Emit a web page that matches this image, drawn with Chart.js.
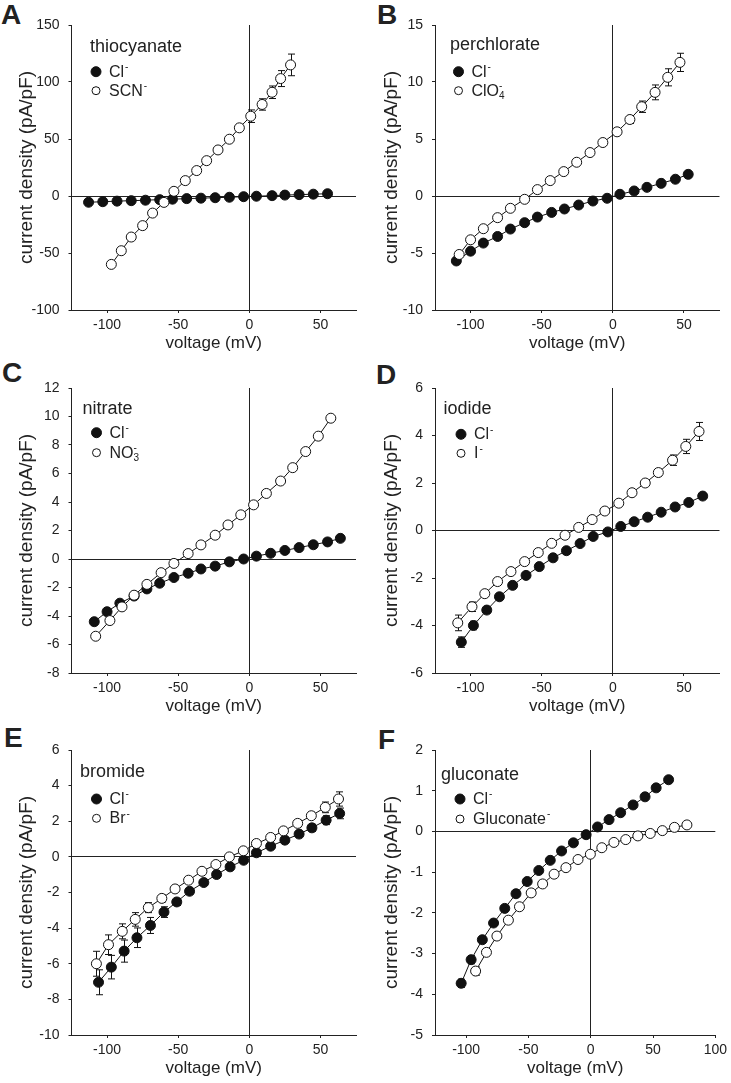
<!DOCTYPE html>
<html>
<head>
<meta charset="utf-8">
<script src="https://cdn.jsdelivr.net/npm/chart.js@4.4.1/dist/chart.umd.min.js"></script>
<style>
  body { margin: 0; background: #fff; width: 731px; height: 1083px; position: relative; overflow: hidden; }
  canvas { position: absolute; }
  .tag { position: absolute; font: bold 28px/28px 'Liberation Sans', Arial, sans-serif; color: #222; }
</style>
</head>
<body>
<div class="tag" style="left:1px;top:1px">A</div>
<div class="tag" style="left:377px;top:1px">B</div>
<div class="tag" style="left:2px;top:359px">C</div>
<div class="tag" style="left:376px;top:361px">D</div>
<div class="tag" style="left:4px;top:724px">E</div>
<div class="tag" style="left:378px;top:726px">F</div>

<canvas id="chartA" width="365" height="355" style="left:0;top:0"></canvas>
<canvas id="chartB" width="366" height="355" style="left:365px;top:0"></canvas>
<canvas id="chartC" width="365" height="355" style="left:0;top:363px"></canvas>
<canvas id="chartD" width="366" height="355" style="left:365px;top:363px"></canvas>
<canvas id="chartE" width="365" height="355" style="left:0;top:725px"></canvas>
<canvas id="chartF" width="366" height="355" style="left:365px;top:725px"></canvas>

<script>
const FONT = "'Liberation Sans', Arial, sans-serif";
const INK = '#222';

// tick labels
const xTicks = [-100, -50, 0, 50];
const xTicksF = [-100, -50, 0, 50, 100];
const yTicksA = [-100, -50, 0, 50, 100, 150];
const yTicksB = [-10, -5, 0, 5, 10, 15];
const yTicksC = [-8, -6, -4, -2, 0, 2, 4, 6, 8, 10, 12];
const yTicksD = [-6, -4, -2, 0, 2, 4, 6];
const yTicksE = [-10, -8, -6, -4, -2, 0, 2, 4, 6];
const yTicksF = [-5, -4, -3, -2, -1, 0, 1, 2];

// A: thiocyanate
const vA_cl = [-113, -103, -93, -83, -73, -63, -54, -44, -34, -24, -14, -4, 5, 16, 25, 35, 45, 55];
const iA_cl = [-5.5, -5.0, -4.5, -4.1, -3.7, -3.2, -2.8, -2.3, -1.9, -1.5, -1.1, -0.6, -0.2, 0.3, 0.8, 1.2, 1.6, 2.0];
const eA_cl = [0.5, 0.5, 0.5, 0.5, 0.5, 0.5, 0.5, 0.5, 0.5, 0.5, 0.5, 0.5, 0.5, 0.5, 0.5, 0.5, 0.5, 0.5];
const vA_scn = [-97, -90, -83, -75, -68, -60, -53, -45, -37, -30, -22, -14, -7, 1, 9, 16, 22, 29];
const iA_scn = [-60, -48, -36, -26, -15, -5.6, 4.1, 13.5, 22.3, 31, 40.4, 49.8, 59.8, 70, 80.3, 91, 103, 115];
const eA_scn = [1, 1, 1, 1, 1, 1, 1, 1.5, 1.5, 1.5, 2, 2, 3, 5.5, 5, 5.5, 7, 9.5];

// B: perchlorate
const vB_cl = [-110, -100, -91, -81, -72, -62, -53, -43, -34, -24, -14, -4, 5, 15, 24, 34, 44, 53];
const iB_cl = [-5.7, -4.84, -4.13, -3.55, -2.9, -2.34, -1.85, -1.44, -1.14, -0.79, -0.44, -0.2, 0.15, 0.44, 0.76, 1.11, 1.47, 1.9];
const eB_cl = [0.25, 0.2, 0.15, 0.15, 0.1, 0.1, 0.1, 0.1, 0.1, 0.1, 0.1, 0.1, 0.1, 0.1, 0.1, 0.1, 0.15, 0.15];
const vB_clo4 = [-108, -100, -91, -81, -72, -62, -53, -44, -34.5, -25.4, -16, -7, 3, 12, 20.3, 29.7, 38.6, 47.2];
const iB_clo4 = [-5.13, -3.84, -2.87, -1.9, -1.08, -0.29, 0.56, 1.35, 2.14, 2.96, 3.81, 4.69, 5.63, 6.71, 7.83, 9.09, 10.41, 11.72];
const eB_clo4 = [0.2, 0.2, 0.15, 0.15, 0.1, 0.1, 0.1, 0.1, 0.1, 0.1, 0.15, 0.2, 0.25, 0.35, 0.5, 0.65, 0.75, 0.8];

// C: nitrate
const vC_cl = [-109, -100, -91, -81, -72, -63, -53, -43, -34, -24, -14, -4, 5, 15, 25, 35, 45, 55, 64];
const iC_cl = [-4.4, -3.7, -3.1, -2.6, -2.1, -1.7, -1.3, -1.0, -0.7, -0.5, -0.2, 0, 0.2, 0.4, 0.6, 0.8, 1.0, 1.2, 1.45];
const vC_no3 = [-108, -98, -89.5, -81, -72, -62, -53, -43, -34, -24, -15, -6, 3, 12, 22, 30.5, 39.6, 48.5, 57.3];
const iC_no3 = [-5.42, -4.32, -3.36, -2.54, -1.78, -0.96, -0.31, 0.38, 0.99, 1.67, 2.39, 3.1, 3.8, 4.6, 5.47, 6.41, 7.54, 8.62, 9.88];

// D: iodide
const vD_cl = [-106.5, -98, -88.6, -79.7, -70.4, -61, -51.7, -42, -32.6, -23, -13.8, -3.5, 5.6, 15, 24.5, 34, 43.8, 53.4, 63.2];
const iD_cl = [-4.7, -4.0, -3.35, -2.79, -2.31, -1.89, -1.52, -1.15, -0.85, -0.55, -0.25, -0.06, 0.17, 0.37, 0.56, 0.77, 0.99, 1.18, 1.45];
const eD_cl = [0.22, 0.18, 0.12, 0.1, 0.08, 0.08, 0.06, 0.06, 0.05, 0.05, 0.05, 0.05, 0.05, 0.05, 0.05, 0.06, 0.06, 0.08, 0.1];
const vD_i = [-109, -99, -90, -81, -71.6, -62, -52.4, -43, -33.6, -24, -14.5, -5.6, 4.2, 13.5, 22.8, 32, 42, 51.3, 60.6];
const iD_i = [-3.89, -3.21, -2.66, -2.15, -1.73, -1.31, -0.93, -0.54, -0.2, 0.13, 0.46, 0.82, 1.15, 1.59, 2.0, 2.44, 2.96, 3.54, 4.17];
const eD_i = [0.33, 0.2, 0.12, 0.1, 0.08, 0.08, 0.06, 0.06, 0.05, 0.05, 0.05, 0.05, 0.06, 0.08, 0.1, 0.15, 0.22, 0.3, 0.38];

// E: bromide
const vE_cl = [-106, -97, -88, -79, -69.5, -60, -51, -42, -32, -23, -13.5, -4, 5, 15, 25, 35, 44, 54, 63.5];
const iE_cl = [-7.04, -6.19, -5.29, -4.54, -3.85, -3.1, -2.53, -1.93, -1.44, -0.99, -0.56, -0.19, 0.23, 0.6, 0.94, 1.28, 1.63, 2.06, 2.44];
const eE_cl = [0.7, 0.66, 0.62, 0.55, 0.45, 0.3, 0.2, 0.15, 0.15, 0.1, 0.1, 0.1, 0.1, 0.1, 0.15, 0.15, 0.2, 0.25, 0.3];
const vE_br = [-107.5, -99, -89.3, -80.2, -71, -61.5, -52.2, -42.7, -33.3, -23.5, -14, -4.2, 5, 15, 24, 34, 43.6, 53.4, 62.7];
const iE_br = [-6.0, -4.93, -4.18, -3.51, -2.85, -2.33, -1.8, -1.31, -0.81, -0.43, 0, 0.34, 0.75, 1.09, 1.46, 1.88, 2.31, 2.78, 3.25];
const eE_br = [0.7, 0.55, 0.42, 0.38, 0.28, 0.2, 0.15, 0.12, 0.1, 0.1, 0.1, 0.1, 0.1, 0.12, 0.15, 0.18, 0.2, 0.3, 0.4];

// F: gluconate
const vF_cl = [-104, -96, -87, -78, -69, -60, -51, -41.7, -32.5, -23.4, -13.9, -3.7, 5.5, 14.7, 24, 34, 43.6, 52.5, 62.5];
const iF_cl = [-3.73, -3.15, -2.66, -2.25, -1.89, -1.53, -1.23, -0.96, -0.71, -0.48, -0.28, -0.08, 0.11, 0.29, 0.46, 0.65, 0.85, 1.07, 1.27];
const eF_cl = [0.1, 0.1, 0.08, 0.06, 0.05, 0.05, 0.04, 0.04, 0.03, 0.03, 0.03, 0.03, 0.03, 0.03, 0.03, 0.03, 0.04, 0.04, 0.05];
const vF_gl = [-92.4, -83.7, -75.3, -66.1, -57.2, -47.8, -38.6, -29.4, -19.9, -10.2, -0.3, 8.9, 18.6, 28.1, 37.8, 47.8, 57.5, 67.2, 77.2];
const iF_gl = [-3.43, -2.97, -2.57, -2.18, -1.85, -1.51, -1.29, -1.05, -0.89, -0.69, -0.56, -0.4, -0.27, -0.2, -0.11, -0.05, 0.02, 0.1, 0.16];
const eF_gl = [0.1, 0.08, 0.06, 0.05, 0.05, 0.04, 0.04, 0.03, 0.03, 0.03, 0.03, 0.03, 0.03, 0.03, 0.03, 0.03, 0.03, 0.03, 0.03];

function pts(xs, ys) {
    return xs.map((x, i) => ({ x: x, y: ys[i] }));
}

// draws "Cl^-" / "ClO_4^-" with small raised / lowered characters
function drawRich(ctx, text, x, y, size) {
    const parts = text.split(/([_^].)/).filter(s => s.length);
    let cx = x, subX = null;
    parts.forEach(p => {
        if (p[0] === '^' || p[0] === '_') {
            ctx.font = Math.round(size * 0.6) + 'px ' + FONT;
            const w = ctx.measureText(p[1]).width;
            if (p[0] === '_') {
                ctx.fillText(p[1], cx, y + size * 0.2);
                subX = cx;
                cx += w;
            } else {
                const sx = subX !== null ? subX : cx + 1;
                ctx.fillText(p[1], sx, y - size * 0.42);
                cx = Math.max(cx, sx + w);
                subX = null;
            }
        } else {
            ctx.font = size + 'px ' + FONT;
            ctx.fillText(p, cx, y);
            cx += ctx.measureText(p).width;
            subX = null;
        }
    });
}

const errorBars = {
    id: 'errorBars',
    beforeDatasetsDraw(chart) {
        const ctx = chart.ctx, xs = chart.scales.x, ys = chart.scales.y;
        ctx.save();
        ctx.strokeStyle = '#111';
        ctx.lineWidth = 1;
        chart.data.datasets.forEach(ds => {
            if (!ds.err) return;
            ds.data.forEach((p, i) => {
                const e = ds.err[i];
                if (!e) return;
                const px = Math.round(xs.getPixelForValue(p.x)) + 0.5;
                const top = ys.getPixelForValue(p.y + e);
                const bot = ys.getPixelForValue(p.y - e);
                ctx.beginPath();
                ctx.moveTo(px, top); ctx.lineTo(px, bot);
                ctx.moveTo(px - 3.5, top); ctx.lineTo(px + 3.5, top);
                ctx.moveTo(px - 3.5, bot); ctx.lineTo(px + 3.5, bot);
                ctx.stroke();
            });
        });
        ctx.restore();
    }
};

const insetLegend = {
    id: 'insetLegend',
    afterDraw(chart, args, o) {
        const ctx = chart.ctx, a = chart.chartArea;
        ctx.save();
        ctx.fillStyle = INK;
        ctx.textBaseline = 'alphabetic';
        ctx.font = '18px ' + FONT;
        ctx.fillText(o.title, a.left + o.tx, a.top + o.ty);
        chart.data.datasets.forEach((ds, i) => {
            const cx = a.left + o.mx, cy = a.top + o.rows[i];
            ctx.beginPath();
            ctx.arc(cx, cy, ds.filled ? 5 : 4, 0, Math.PI * 2);
            ctx.fillStyle = ds.filled ? '#111' : '#fff';
            ctx.fill();
            ctx.lineWidth = 1;
            ctx.strokeStyle = '#111';
            ctx.stroke();
            ctx.fillStyle = INK;
            drawRich(ctx, ds.legendText, cx + 13, cy + 5, 16);
        });
        ctx.restore();
    }
};

function series(label, legendText, xs, ys, err, filled) {
    return {
        label: label,
        legendText: legendText,
        filled: filled,
        err: err,
        data: pts(xs, ys),
        showLine: true,
        order: filled ? 1 : 0,
        borderColor: '#111',
        borderWidth: 1,
        tension: 0,
        pointRadius: 5,
        pointHoverRadius: 5,
        pointBorderWidth: 1,
        pointBorderColor: '#111',
        pointBackgroundColor: filled ? '#111' : '#fff'
    };
}

function zeroGrid(c) {
    return c.tick && c.tick.value === 0 ? INK : 'rgba(0,0,0,0)';
}

function panel(id, cfg) {
    new Chart(document.getElementById(id), {
        type: 'scatter',
        data: { datasets: cfg.datasets },
        options: {
            responsive: false,
            animation: false,
            events: [],
            layout: { padding: { top: 25, right: cfg.right, left: 0, bottom: 0 } },
            plugins: {
                legend: { display: false },
                tooltip: { enabled: false },
                insetLegend: cfg.legend
            },
            scales: {
                x: {
                    type: 'linear',
                    min: cfg.xMin,
                    max: cfg.xMax,
                    afterFit: s => { s.height = 45; },
                    afterBuildTicks: s => { s.ticks = cfg.xTicks.map(v => ({ value: v })); },
                    grid: { color: zeroGrid, tickColor: INK, tickLength: 3, lineWidth: 1 },
                    border: { color: INK, width: 1 },
                    ticks: { color: INK, font: { family: FONT, size: 14 }, padding: 4, maxRotation: 0, autoSkip: false },
                    title: { display: true, text: 'voltage (mV)', color: INK, font: { family: FONT, size: 17 }, padding: { top: 0, bottom: 1 } }
                },
                y: {
                    type: 'linear',
                    min: cfg.yTicks[0],
                    max: cfg.yTicks[cfg.yTicks.length - 1],
                    afterFit: s => { s.width = cfg.yw; },
                    afterBuildTicks: s => { s.ticks = cfg.yTicks.map(v => ({ value: v })); },
                    grid: { color: zeroGrid, tickColor: INK, tickLength: 3, lineWidth: 1 },
                    border: { color: INK, width: 1 },
                    ticks: { color: INK, font: { family: FONT, size: 14 }, padding: 9, autoSkip: false },
                    title: { display: true, text: 'current density (pA/pF)', color: INK, font: { family: FONT, size: 19 }, padding: { top: 15.5, bottom: 0 } }
                }
            }
        },
        plugins: [errorBars, insetLegend]
    });
}

panel('chartA', {
    xMin: -125, xMax: 75, xTicks: xTicks, yTicks: yTicksA, yw: 71.5, right: 9,
    legend: { title: 'thiocyanate', tx: 18.5, ty: 26.7, mx: 24.5, rows: [46.7, 65.7] },
    datasets: [
        series('Cl⁻', 'Cl^-', vA_cl, iA_cl, eA_cl, true),
        series('SCN⁻', 'SCN^-', vA_scn, iA_scn, eA_scn, false)
    ]
});

panel('chartB', {
    xMin: -125, xMax: 75, xTicks: xTicks, yTicks: yTicksB, yw: 70, right: 11.5,
    legend: { title: 'perchlorate', tx: 15, ty: 25, mx: 23.5, rows: [46.7, 65.7] },
    datasets: [
        series('Cl⁻', 'Cl^-', vB_cl, iB_cl, eB_cl, true),
        series('ClO₄⁻', 'ClO_4^-', vB_clo4, iB_clo4, eB_clo4, false)
    ]
});

panel('chartC', {
    xMin: -125, xMax: 75, xTicks: xTicks, yTicks: yTicksC, yw: 71.5, right: 9,
    legend: { title: 'nitrate', tx: 11, ty: 26, mx: 25, rows: [44.7, 64.7] },
    datasets: [
        series('Cl⁻', 'Cl^-', vC_cl, iC_cl, null, true),
        series('NO₃⁻', 'NO_3^-', vC_no3, iC_no3, null, false)
    ]
});

panel('chartD', {
    xMin: -125, xMax: 75, xTicks: xTicks, yTicks: yTicksD, yw: 70, right: 11.5,
    legend: { title: 'iodide', tx: 8.5, ty: 26, mx: 26, rows: [46.3, 65.3] },
    datasets: [
        series('Cl⁻', 'Cl^-', vD_cl, iD_cl, eD_cl, true),
        series('I⁻', 'I^-', vD_i, iD_i, eD_i, false)
    ]
});

panel('chartE', {
    xMin: -125, xMax: 75, xTicks: xTicks, yTicks: yTicksE, yw: 71.5, right: 9,
    legend: { title: 'bromide', tx: 8.5, ty: 27, mx: 25, rows: [49, 68.3] },
    datasets: [
        series('Cl⁻', 'Cl^-', vE_cl, iE_cl, eE_cl, true),
        series('Br⁻', 'Br^-', vE_br, iE_br, eE_br, false)
    ]
});

panel('chartF', {
    xMin: -125, xMax: 100, xTicks: xTicksF, yTicks: yTicksF, yw: 70, right: 11.5,
    legend: { title: 'gluconate', tx: 6, ty: 30, mx: 25, rows: [49, 69] },
    datasets: [
        series('Cl⁻', 'Cl^-', vF_cl, iF_cl, eF_cl, true),
        series('Gluconate⁻', 'Gluconate^-', vF_gl, iF_gl, eF_gl, false)
    ]
});
</script>
</body>
</html>
